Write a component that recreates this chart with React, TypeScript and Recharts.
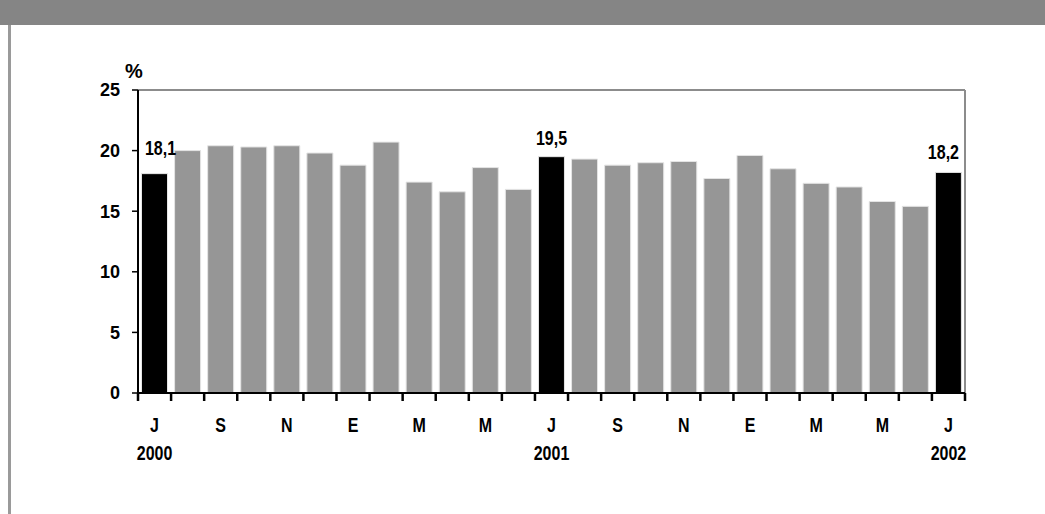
import React from "react";
import {
  BarChart,
  Bar,
  XAxis,
  YAxis,
  Cell,
  LabelList,
  ReferenceLine,
} from "recharts";

// July 2000 .. July 2002 (Spanish month initials)
const months = [
  "J", "A", "S", "O", "N", "D", "E", "F", "M", "A", "M", "J",
  "J", "A", "S", "O", "N", "D", "E", "F", "M", "A", "M", "J", "J",
];
const years = ["2000", "", "", "", "", "", "", "", "", "", "", "", "2001",
  "", "", "", "", "", "", "", "", "", "", "", "2002"];
const values = [
  18.1, 20.0, 20.4, 20.3, 20.4, 19.8, 18.8, 20.7, 17.4, 16.6, 18.6, 16.8,
  19.5, 19.3, 18.8, 19.0, 19.1, 17.7, 19.6, 18.5, 17.3, 17.0, 15.8, 15.4,
  18.2,
];
const highlighted = [0, 12, 24];
const yTicks = [0, 5, 10, 15, 20, 25];

const data = months.map((m, i) => ({
  key: `${i}`,
  month: m,
  year: years[i],
  value: values[i],
}));

const SANS = "'Liberation Sans', Arial, sans-serif";

// small nudges for the value labels so they stay inside the frame
const labelNudge: Record<number, { dx: number; dy: number }> = {
  0: { dx: 6, dy: -19 },
  12: { dx: 0, dy: -12 },
  24: { dx: -5, dy: -13 },
};

// condensed bold text (no narrow face installed, so squeeze Liberation Sans)
const NarrowText = ({ x, y, children }: { x: number; y: number; children: any }) => (
  <text
    transform={`translate(${x} ${y}) scale(0.8 1)`}
    textAnchor="middle"
    fontFamily={SANS}
    fontWeight="bold"
    fontSize={20}
    fill="#000"
  >
    {children}
  </text>
);

// month letter every other bar, year under the Julys, tick marks on band edges
const MonthTick = (props: any) => {
  const { x, y, payload, index, visibleTicksCount } = props;
  const off = Number(payload?.offset);
  const half = Number.isFinite(off) && off > 0 ? off : 16.56;
  const i = Number.isFinite(index) ? index : Number(payload.value);
  const item = data[i];
  const count = Number.isFinite(visibleTicksCount) ? visibleTicksCount : data.length;
  const isLast = i === count - 1;
  return (
    <g>
      <line x1={x - half} y1={y} x2={x - half} y2={y + 8} stroke="#000" strokeWidth={2.5} />
      {isLast && (
        <line x1={x + half} y1={y} x2={x + half} y2={y + 8} stroke="#000" strokeWidth={2.5} />
      )}
      {i % 2 === 0 && <NarrowText x={x} y={y + 39}>{item.month}</NarrowText>}
      {item.year && <NarrowText x={x} y={y + 67}>{item.year}</NarrowText>}
    </g>
  );
};

const ValueLabel = (props: any) => {
  const { x, y, width, value, index } = props;
  if (!highlighted.includes(index)) return null;
  const n = labelNudge[index] ?? { dx: 0, dy: -12 };
  return (
    <NarrowText x={x + width / 2 + n.dx} y={y + n.dy}>
      {Number(value).toFixed(1).replace(".", ",")}
    </NarrowText>
  );
};

const PercentLabel = (props: any) => {
  const vb = props.viewBox || {};
  return (
    <text
      x={vb.x + vb.width - 4}
      y={vb.y - 12}
      textAnchor="middle"
      fontFamily={SANS}
      fontWeight="bold"
      fontSize={20}
      fill="#000"
    >
      %
    </text>
  );
};

const App: React.FC = () => {
  return (
    <div
      style={{
        position: "absolute",
        left: 0,
        top: 0,
        width: 1045,
        height: 514,
        background: "#fff",
        overflow: "hidden",
      }}
    >
      {/* header band */}
      <div
        style={{
          position: "absolute",
          left: 0,
          top: 0,
          width: 1045,
          height: 25,
          background: "#858585",
        }}
      />
      {/* left frame line */}
      <div
        style={{
          position: "absolute",
          left: 8,
          top: 25,
          width: 3,
          height: 489,
          background: "#9a9a9a",
        }}
      />

      <div style={{ position: "absolute", left: 0, top: 0 }}>
        <BarChart
          width={1045}
          height={514}
          data={data}
          margin={{ top: 90, right: 80, bottom: 51, left: 88 }}
          barCategoryGap={3.5}
        >
          <ReferenceLine y={25} stroke="#8c8c8c" strokeWidth={2} />
          <ReferenceLine
            x={data[data.length - 1].key}
            position="end"
            stroke="#8c8c8c"
            strokeWidth={2}
          />
          <XAxis
            dataKey="key"
            height={70}
            interval={0}
            tickLine={false}
            tickSize={0}
            tickMargin={0}
            axisLine={{ stroke: "#000", strokeWidth: 2 }}
            tick={<MonthTick />}
          />
          <YAxis
            domain={[0, 25]}
            ticks={yTicks}
            width={50}
            tickSize={6}
            tickMargin={12}
            axisLine={{ stroke: "#000", strokeWidth: 2 }}
            tickLine={{ stroke: "#000", strokeWidth: 1.5 }}
            tick={{ fill: "#000", fontSize: 18, fontWeight: "bold", fontFamily: SANS }}
            label={<PercentLabel />}
          />
          <Bar
            dataKey="value"
            isAnimationActive={false}
            stroke="#e4e4e4"
            strokeWidth={1}
          >
            {data.map((d, i) => (
              <Cell
                key={d.key}
                fill={highlighted.includes(i) ? "#000000" : "#969696"}
              />
            ))}
            <LabelList dataKey="value" content={<ValueLabel />} />
          </Bar>
        </BarChart>
      </div>
    </div>
  );
};

export default App;
